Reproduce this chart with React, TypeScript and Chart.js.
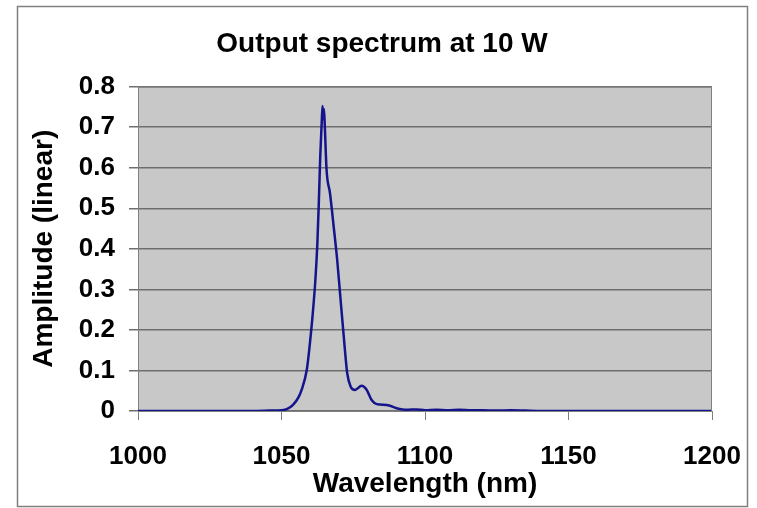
import React, { useEffect, useRef } from "react";
import { Chart, registerables } from "chart.js";

Chart.register(...registerables);

const chartTitle = "Output spectrum at 10 W";
const xTitle = "Wavelength (nm)";
const yTitle = "Amplitude (linear)";

const wavelengths = [
  1000, 1020, 1040, 1046, 1050, 1052, 1054, 1056, 1057, 1058.8, 1059.9, 1060.9, 1061.8,
  1062.5, 1063.0, 1063.5, 1064.0, 1064.3, 1064.55, 1064.8, 1065.1, 1065.7, 1066.9, 1068.3,
  1069.4, 1070.4, 1071.8, 1072.9, 1074.1, 1075.6, 1077.9, 1079.7, 1081.4, 1083.2, 1086.7,
  1090.1, 1093.6, 1097, 1100, 1104, 1108, 1112, 1116, 1120, 1125, 1130, 1140, 1160, 1180, 1200,
];
const amplitude = [
  0, 0, 0, 0.001, 0.002, 0.005, 0.015, 0.035, 0.052, 0.101, 0.167, 0.241, 0.323,
  0.414, 0.513, 0.628, 0.71, 0.752, 0.72, 0.745, 0.7, 0.595, 0.537, 0.447,
  0.373, 0.29, 0.175, 0.093, 0.06, 0.052, 0.062, 0.052, 0.027, 0.017, 0.015,
  0.007, 0.003, 0.004, 0.002, 0.003, 0.002, 0.003, 0.002, 0.002, 0.001, 0.002, 0, 0, 0, 0,
];

const xMin = 1000;
const xMax = 1200;
const xStep = 50;
const yMin = 0;
const yMax = 0.8;
const yStep = 0.1;

const FONT = "'Liberation Sans', Arial, sans-serif";

const framePlugin = {
  id: "frame",
  beforeDraw(chart: any) {
    const { ctx, chartArea } = chart;
    ctx.save();
    ctx.fillStyle = "#ffffff";
    ctx.fillRect(0, 0, chart.width, chart.height);
    ctx.fillStyle = "#c8c8c8";
    ctx.fillRect(chartArea.left, chartArea.top, chartArea.right - chartArea.left, chartArea.bottom - chartArea.top);
    ctx.strokeStyle = "#808080";
    ctx.lineWidth = 1.5;
    ctx.strokeRect(17.5, 6.5, 730, 500);
    ctx.restore();
  },
  afterDatasetsDraw(chart: any) {
    const { ctx, chartArea } = chart;
    ctx.save();
    ctx.strokeStyle = "#808080";
    ctx.lineWidth = 1;
    ctx.beginPath();
    ctx.moveTo(chartArea.left, chartArea.top + 0.5);
    ctx.lineTo(chartArea.right - 0.5, chartArea.top + 0.5);
    ctx.lineTo(chartArea.right - 0.5, chartArea.bottom);
    ctx.stroke();
    ctx.restore();
  },
};

export default function App() {
  const ref = useRef<HTMLCanvasElement | null>(null);
  useEffect(() => {
    if (!ref.current) return;
    const data = wavelengths.map((x, i) => ({ x, y: amplitude[i] }));
    const chart = new Chart(ref.current, {
      type: "line",
      data: {
        datasets: [
          {
            data,
            borderColor: "#14148c",
            borderWidth: 2.5,
            pointRadius: 0,
            cubicInterpolationMode: "monotone",
            fill: false,
          },
        ],
      },
      options: {
        animation: false,
        responsive: false,
        devicePixelRatio: 1,
        layout: { padding: { left: 26, right: 19, top: 0, bottom: 0 } },
        plugins: {
          legend: { display: false },
          tooltip: { enabled: false },
          title: {
            display: true,
            text: chartTitle,
            color: "#000",
            font: { family: FONT, size: 28, weight: "bold" },
            padding: { top: 27, bottom: 26 },
          },
        },
        scales: {
          x: {
            type: "linear",
            min: xMin,
            max: xMax,
            ticks: {
              stepSize: xStep,
              color: "#000",
              font: { family: FONT, size: 26, weight: "bold" },
              padding: 21,
              maxRotation: 0,
              callback: (v: any) => String(v),
            },
            grid: { drawOnChartArea: false, drawTicks: true, tickLength: 9, color: "#808080" },
            border: { color: "#808080", width: 1 },
            title: {
              display: true,
              text: xTitle,
              color: "#000",
              font: { family: FONT, size: 28, weight: "bold" },
              padding: { top: 0, bottom: 7 },
            },
            afterFit: (s: any) => {
              s.height = 97;
              s.paddingRight = 45;
            },
          },
          y: {
            type: "linear",
            min: yMin,
            max: yMax,
            ticks: {
              stepSize: yStep,
              color: "#000",
              font: { family: FONT, size: 26, weight: "bold" },
              padding: 14,
              callback: (v: any) => String(Math.round(Number(v) * 10) / 10),
            },
            grid: { drawOnChartArea: true, drawTicks: true, tickLength: 9, color: "#6e6e6e", lineWidth: 1.5 },
            border: { color: "#808080", width: 1 },
            title: {
              display: true,
              text: yTitle,
              color: "#000",
              font: { family: FONT, size: 28, weight: "bold" },
              padding: { top: 1, bottom: 0 },
            },
            afterFit: (s: any) => {
              s.width = 112;
            },
          },
        },
      },
      plugins: [framePlugin],
    });
    return () => chart.destroy();
  }, []);
  return (
    <div style={{ position: "absolute", left: 0, top: 0, width: 757, height: 508 }}>
      <canvas ref={ref} width={757} height={508} style={{ display: "block" }} />
    </div>
  );
}
